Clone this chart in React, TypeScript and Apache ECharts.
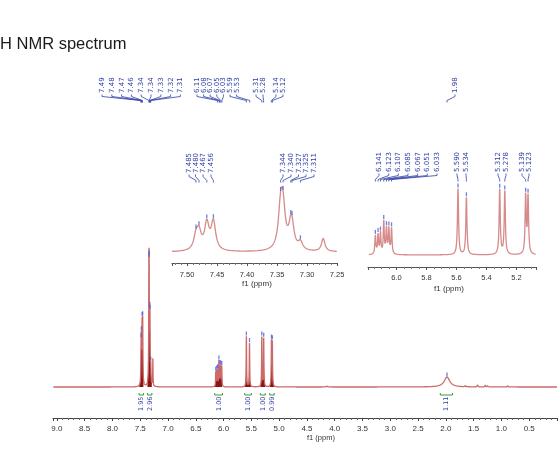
import React, { useEffect, useRef } from "react";
import * as echarts from "echarts";

// ---- Spectrum peak list (ppm, intensity, half width at half maximum in ppm) ----
const peakPpm = [
  7.485, 7.48, 7.467, 7.456, 7.344, 7.34, 7.327, 7.325, 7.311, 7.273,
  6.141, 6.123, 6.107, 6.085, 6.067, 6.051, 6.033,
  5.59, 5.534, 5.312, 5.278, 5.139, 5.123,
  4.14, 1.98, 1.65, 1.43, 1.29, 1.25, 0.89,
];
const peakHeight = [
  28.6, 35.1, 56, 61, 80, 80, 35.5, 35.5, 16.4, 27.5,
  14.5, 15, 16, 25, 19.5, 19.5, 20,
  50.7, 44, 50, 48.7, 44.6, 43.8,
  1, 10, 1.5, 2.5, 2, 1.5, 1.5,
];
const peakHalfWidth = [
  0.0045, 0.0045, 0.0045, 0.0045, 0.0045, 0.0045, 0.0045, 0.0045, 0.0045, 0.0035,
  0.004, 0.004, 0.004, 0.004, 0.004, 0.004, 0.004,
  0.0045, 0.0045, 0.0045, 0.0045, 0.0045, 0.0045,
  0.01, 0.06, 0.006, 0.006, 0.006, 0.006, 0.006,
];

// ---- Peak-picking labels ----
const mainPeakLabels = [
  "7.49", "7.48", "7.47", "7.46", "7.34", "7.34", "7.33", "7.32", "7.31",
  "6.11", "6.08", "6.07", "6.05", "6.03", "5.59", "5.53", "5.31", "5.28", "5.14", "5.12",
  "1.98",
];
const aromaticLabels = ["7.485", "7.480", "7.467", "7.456", "7.344", "7.340", "7.327", "7.325", "7.311"];
const olefinicLabels = [
  "6.141", "6.123", "6.107", "6.085", "6.067", "6.051", "6.033",
  "5.590", "5.534", "5.312", "5.278", "5.139", "5.123",
];

// ---- Integrals ----
const integralFrom = [7.52, 7.37, 6.16, 5.62, 5.34, 5.17, 2.1];
const integralTo = [7.44, 7.29, 6.02, 5.5, 5.25, 5.09, 1.88];
const integralValue = ["1.95", "2.96", "1.00", "1.00", "1.00", "0.99", "1.11"];

// ---- Layout of label columns (pixels) ----
const mainLabelSlots = [
  102, 111.8, 121.6, 131.4, 141.2, 151, 160.8, 170.6, 180.4,
  197, 203.6, 210.2, 216.8, 223.4, 230, 236.6, 256, 263, 276, 283,
  455,
];
const aromaticSlots = [189, 195.5, 203, 211, 283, 291, 298.5, 306, 314];
const olefinicSlots = [379, 388.7, 398.3, 408, 417.7, 427.3, 437, 457, 466, 498, 506, 522, 529];

const BLUE = "#2f3fa6";
const GREEN = "#3a9a3a";
const TRACE = "#cc6a6a";
const INSET_TRACE = "#d68a8a";
const FILL = "#8c1414";

function intensity(x: number): number {
  let s = 0;
  for (let i = 0; i < peakPpm.length; i++) {
    const d = (x - peakPpm[i]) / peakHalfWidth[i];
    s += peakHeight[i] / (1 + d * d);
  }
  return s;
}

function sampleAxis(): number[] {
  const keys = new Set<number>();
  for (let k = 0; k <= 90700; k += 40) keys.add(k);
  peakPpm.forEach((p, i) => {
    if (peakHalfWidth[i] > 0.02) return;
    const c = Math.round(p * 1e4);
    for (let k = c - 400; k <= c + 400; k += 4) keys.add(k);
  });
  return Array.from(keys).sort((a, b) => a - b).map((k) => k / 1e4);
}

function onGrid(v: number, step: number): boolean {
  const r = v / step;
  return Math.abs(r - Math.round(r)) < 1e-6;
}

export default function App() {
  const ref = useRef<HTMLDivElement>(null);

  useEffect(() => {
    if (!ref.current) return;
    const chart = echarts.init(ref.current, null, { renderer: "svg" });

    const xs = sampleAxis();
    const spectrum = xs.map((x) => [x, intensity(x)]);
    const within = (lo: number, hi: number) => spectrum.filter((p) => p[0] >= lo && p[0] <= hi);

    const pickedMain = [...aromaticLabels, ...olefinicLabels, "1.98"].map((t) => {
      const v = parseFloat(t);
      return [v, intensity(v)];
    });
    const pickedAromatic = aromaticLabels.map((t) => [parseFloat(t), intensity(parseFloat(t))]);
    const pickedOlefinic = olefinicLabels.map((t) => [parseFloat(t), intensity(parseFloat(t))]);

    const axisFont = { fontFamily: "Liberation Sans", color: "#333" };

    // dense, sharp multiplets render as solid dark bands; broad humps stay as plain trace
    const fills = integralFrom
      .map((from, i) => within(integralTo[i], from))
      .filter((seg) => Math.max(...seg.map((p) => p[1])) > 20)
      .map((seg) => ({
        type: "line",
        xAxisIndex: 0,
        yAxisIndex: 0,
        symbol: "none",
        silent: true,
        z: 2,
        lineStyle: { width: 0 },
        areaStyle: { color: FILL, opacity: 1 },
        data: seg,
      }));

    const markStyle = {
      type: "scatter",
      symbol: "rect",
      symbolSize: [1.3, 4],
      symbolOffset: [0, -2.5],
      silent: true,
      z: 4,
      itemStyle: { color: "#4a5fd6" },
    };

    chart.setOption({
      animation: false,
      grid: [
        { left: 53, right: -6, top: 240, bottom: 53 },
        { left: 172, width: 165, top: 185, height: 78 },
        { left: 368, width: 168, top: 185, height: 82 },
      ],
      xAxis: [
        {
          type: "value",
          gridIndex: 0,
          min: 0,
          max: 9.07,
          interval: 0.5,
          inverse: true,
          axisLine: { onZero: false, lineStyle: { color: "#444", width: 1 } },
          axisTick: { length: 3, lineStyle: { color: "#444" } },
          minorTick: { show: true, splitNumber: 5, length: 2, lineStyle: { color: "#666" } },
          splitLine: { show: false },
          axisLabel: {
            ...axisFont,
            fontSize: 8,
            margin: 6,
            formatter: (v: number) => (v > 0.01 && onGrid(v, 0.5) ? v.toFixed(1) : ""),
          },
        },
        {
          type: "value",
          gridIndex: 1,
          min: 7.25,
          max: 7.525,
          splitNumber: 5,
          inverse: true,
          axisLine: { onZero: false, lineStyle: { color: "#555", width: 1 } },
          axisTick: { length: 3, lineStyle: { color: "#555" } },
          minorTick: { show: true, splitNumber: 5, length: 2, lineStyle: { color: "#777" } },
          splitLine: { show: false },
          axisLabel: {
            ...axisFont,
            fontSize: 7.5,
            margin: 7,
            formatter: (v: number) => (onGrid(v, 0.05) ? v.toFixed(2) : ""),
          },
        },
        {
          type: "value",
          gridIndex: 2,
          min: 5.07,
          max: 6.19,
          splitNumber: 5,
          inverse: true,
          axisLine: { onZero: false, lineStyle: { color: "#555", width: 1 } },
          axisTick: { length: 3, lineStyle: { color: "#555" } },
          minorTick: { show: true, splitNumber: 4, length: 2, lineStyle: { color: "#777" } },
          splitLine: { show: false },
          axisLabel: {
            ...axisFont,
            fontSize: 7.5,
            margin: 6,
            formatter: (v: number) => (onGrid(v, 0.2) ? v.toFixed(1) : ""),
          },
        },
      ],
      yAxis: [
        { type: "value", gridIndex: 0, min: -31, max: 147, show: false },
        { type: "value", gridIndex: 1, min: -23.5, max: 143.3, show: false },
        { type: "value", gridIndex: 2, min: -9.2, max: 53.4, show: false },
      ],
      series: [
        ...fills,
        {
          type: "line",
          xAxisIndex: 0,
          yAxisIndex: 0,
          symbol: "none",
          silent: true,
          z: 3,
          lineStyle: { color: TRACE, width: 1.3 },
          data: spectrum,
        },
        { ...markStyle, xAxisIndex: 0, yAxisIndex: 0, data: pickedMain },
        {
          type: "line",
          xAxisIndex: 1,
          yAxisIndex: 1,
          symbol: "none",
          silent: true,
          z: 3,
          lineStyle: { color: INSET_TRACE, width: 1.3 },
          data: within(7.25, 7.525),
        },
        { ...markStyle, xAxisIndex: 1, yAxisIndex: 1, data: pickedAromatic },
        {
          type: "line",
          xAxisIndex: 2,
          yAxisIndex: 2,
          symbol: "none",
          silent: true,
          z: 3,
          lineStyle: { color: INSET_TRACE, width: 1.3 },
          data: within(5.07, 6.19),
        },
        { ...markStyle, xAxisIndex: 2, yAxisIndex: 2, data: pickedOlefinic },
      ],
    });

    const graphics: any[] = [];
    const rotatedText = (text: string, x: number, bottom: number, size: number) => ({
      type: "text",
      x,
      y: bottom,
      rotation: Math.PI / 2,
      silent: true,
      style: { text, fontSize: size, fontFamily: "DejaVu Sans", fill: BLUE, align: "left", verticalAlign: "middle" },
    });
    const addPeakLabels = (axis: number, labels: string[], slots: number[], bottom: number) => {
      labels.forEach((t, i) => {
        const lx = slots[i];
        const px = chart.convertToPixel({ xAxisIndex: axis } as any, parseFloat(t)) as number;
        graphics.push(rotatedText(t, lx, bottom, 7));
        graphics.push({
          type: "polyline",
          silent: true,
          shape: { points: [[lx, bottom + 1.5], [lx, bottom + 3.5], [px, bottom + 7.5], [px, bottom + 9.5]] },
          style: { stroke: BLUE, lineWidth: 0.8, fill: null },
        });
      });
    };
    addPeakLabels(0, mainPeakLabels, mainLabelSlots, 93);
    addPeakLabels(1, aromaticLabels, aromaticSlots, 173);
    addPeakLabels(2, olefinicLabels, olefinicSlots, 172);

    integralValue.forEach((t, i) => {
      const x1 = chart.convertToPixel({ xAxisIndex: 0 } as any, integralFrom[i]) as number;
      const x2 = chart.convertToPixel({ xAxisIndex: 0 } as any, integralTo[i]) as number;
      graphics.push({
        type: "polyline",
        silent: true,
        shape: { points: [[x1, 393], [x1, 395], [x2, 395], [x2, 393]] },
        style: { stroke: GREEN, lineWidth: 1, fill: null },
      });
      graphics.push(rotatedText(t, (x1 + x2) / 2, 411, 6.5));
    });

    const plainText = (text: string, x: number, y: number, size: number) => ({
      type: "text",
      x,
      y,
      silent: true,
      style: { text, fontSize: size, fontFamily: "Liberation Sans", fill: "#333", align: "center", verticalAlign: "middle" },
    });
    graphics.push({
      type: "text",
      x: 0,
      y: 43,
      silent: true,
      style: { text: "H NMR spectrum", fontSize: 16.5, fontFamily: "Liberation Sans", fill: "#1a1a1a", align: "left", verticalAlign: "middle" },
    });
    graphics.push(plainText("f1 (ppm)", 321, 437, 7.5));
    graphics.push(plainText("f1 (ppm)", 257, 283, 8));
    graphics.push(plainText("f1 (ppm)", 449, 288, 8));

    chart.setOption({ graphic: graphics });

    return () => chart.dispose();
  }, []);

  return <div ref={ref} style={{ position: "fixed", left: 0, top: 0, width: 560, height: 471 }} />;
}
